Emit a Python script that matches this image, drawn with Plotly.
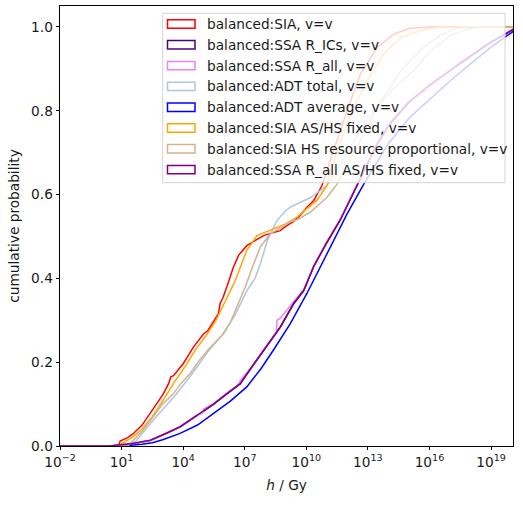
import numpy as np
import plotly.graph_objects as go

# log10(h / Gy) and cumulative probability
sia_logh = [-2, 0.85, 0.93, 1.3, 1.58, 2.0, 2.39, 2.7, 3.04, 3.3, 3.4, 3.53, 3.8, 4.01, 4.3, 4.5, 4.8, 5.0,
            5.2, 5.5, 5.72, 5.8, 5.95, 6.2, 6.45, 6.7, 6.94, 7.1, 7.5, 7.92, 8.3, 8.73, 9.0, 9.38, 9.7, 10.03,
            10.36, 10.76, 11.33, 11.98, 12.63, 13.45, 14.26, 15.07, 16.0, 20.1]
sia_cdf = [0, 0, 0.012, 0.02, 0.03, 0.05, 0.078, 0.1, 0.125, 0.15, 0.165, 0.168, 0.185, 0.197, 0.22, 0.236, 0.255,
           0.268, 0.275, 0.3, 0.316, 0.34, 0.355, 0.39, 0.427, 0.455, 0.47, 0.478, 0.49, 0.502, 0.508, 0.514, 0.524,
           0.536, 0.55, 0.57, 0.586, 0.621, 0.705, 0.8, 0.887, 0.951, 0.983, 0.997, 1.0, 1.0]

ssa_ics_logh = [-2, 0.4, 1.5, 2.4, 3.2, 3.85, 4.6, 5.48, 6.1, 6.78, 7.3, 7.92, 8.3, 8.73, 9.38, 9.87, 10.36,
                11.0, 11.66, 12.5, 13.45, 14.1, 15.0, 16.0, 17.0, 18.0, 19.0, 20.1]
ssa_ics_cdf = [0, 0, 0.005, 0.013, 0.03, 0.045, 0.07, 0.099, 0.123, 0.148, 0.185, 0.228, 0.255, 0.283, 0.339,
               0.37, 0.428, 0.485, 0.54, 0.625, 0.72, 0.77, 0.82, 0.86, 0.896, 0.93, 0.963, 0.994]

ssa_all_logh = [-2, 0.4, 1.5, 2.4, 3.2, 3.85, 4.6, 4.95, 5.0, 5.48, 6.1, 6.7, 6.78, 7.3, 7.92, 8.3, 8.55, 8.57,
                8.73, 9.38, 9.87, 10.36, 11.0, 11.66, 12.5, 13.45, 14.1, 15.0, 15.8, 15.85, 16.5, 17.3, 17.35,
                18.0, 19.0, 20.1]
ssa_all_cdf = [0, 0, 0.005, 0.014, 0.031, 0.046, 0.072, 0.079, 0.088, 0.101, 0.125, 0.147, 0.156, 0.187, 0.23,
               0.257, 0.272, 0.30, 0.305, 0.344, 0.373, 0.43, 0.487, 0.542, 0.627, 0.722, 0.772, 0.823, 0.848,
               0.856, 0.878, 0.905, 0.913, 0.932, 0.965, 0.995]

adt_total_logh = [-2, 1.4, 1.7, 2.6, 3.6, 4.4, 5.2, 5.9, 6.5, 7.1, 7.5, 7.76, 8.1, 8.57, 9.0, 9.22, 10.2, 11.0,
                  11.66, 12.47, 13.3, 14.2, 15.3, 16.0, 17.0, 18.0, 18.6, 20.1]
adt_total_cdf = [0, 0, 0.012, 0.065, 0.12, 0.17, 0.225, 0.265, 0.31, 0.37, 0.40, 0.435, 0.49, 0.538, 0.562, 0.570,
                 0.593, 0.621, 0.67, 0.74, 0.80, 0.85, 0.90, 0.94, 0.98, 0.997, 1.0, 1.0]

adt_avg_logh = [-2, 1.0, 2.0, 2.5, 3.0, 3.85, 4.7, 5.48, 6.3, 7.1, 7.8, 8.4, 9.22, 10.03, 10.5, 11.2, 12.0, 12.8,
                14.0, 15.0, 16.05, 17.0, 18.0, 19.0, 20.1]
adt_avg_cdf = [0, 0, 0.004, 0.008, 0.015, 0.03, 0.05, 0.078, 0.107, 0.141, 0.185, 0.229, 0.292, 0.364, 0.41,
               0.48, 0.555, 0.625, 0.722, 0.782, 0.83, 0.871, 0.912, 0.952, 0.99]

sia_fixed_logh = [-2, 0.9, 1.0, 1.5, 2.0, 2.5, 3.1, 3.6, 4.1, 4.6, 5.1, 5.6, 6.0, 6.54, 7.1, 7.6, 8.4, 9.0, 9.55,
                  9.87, 10.52, 11.0, 11.5, 12.23, 12.96, 13.77, 14.6, 15.7, 16.6, 20.1]
sia_fixed_cdf = [0, 0, 0.006, 0.02, 0.04, 0.07, 0.115, 0.155, 0.19, 0.23, 0.262, 0.3, 0.34, 0.395, 0.467, 0.502,
                 0.518, 0.53, 0.546, 0.56, 0.586, 0.621, 0.705, 0.8, 0.871, 0.935, 0.975, 0.994, 1.0, 1.0]

sia_prop_logh = [-2, 1.3, 1.58, 2.0, 2.55, 3.0, 3.53, 3.9, 4.34, 4.8, 5.2, 5.97, 6.3, 6.6, 7.02, 7.4, 7.76, 8.24,
                 8.8, 9.22, 9.55, 10.2, 11.0, 11.5, 12.47, 13.45, 14.6, 15.7, 16.5, 17.3, 18.0, 20.1]
sia_prop_cdf = [0, 0, 0.014, 0.035, 0.07, 0.1, 0.125, 0.15, 0.173, 0.205, 0.229, 0.268, 0.295, 0.33, 0.379, 0.43,
                0.475, 0.506, 0.522, 0.535, 0.54, 0.558, 0.593, 0.625, 0.713, 0.808, 0.895, 0.951, 0.98, 0.997,
                1.0, 1.0]

ssa_all_fixed_logh = [-2, 0.4, 1.5, 2.4, 3.2, 3.85, 4.6, 5.48, 6.1, 6.78, 7.3, 7.92, 8.3, 8.73, 9.38, 9.87, 10.36,
                      11.0, 11.66, 12.5, 13.45, 14.1, 15.0, 16.0, 17.0, 18.0, 19.0, 20.1]
ssa_all_fixed_cdf = [0, 0, 0.006, 0.014, 0.031, 0.046, 0.071, 0.1, 0.124, 0.149, 0.186, 0.229, 0.256, 0.284,
                     0.34, 0.371, 0.429, 0.486, 0.54, 0.626, 0.721, 0.771, 0.821, 0.861, 0.897, 0.931, 0.964, 0.995]

series = [
    ("balanced:SIA, v=v", sia_logh, sia_cdf, "red"),
    ("balanced:SSA R_ICs, v=v", ssa_ics_logh, ssa_ics_cdf, "indigo"),
    ("balanced:SSA R_all, v=v", ssa_all_logh, ssa_all_cdf, "violet"),
    ("balanced:ADT total, v=v", adt_total_logh, adt_total_cdf, "lightsteelblue"),
    ("balanced:ADT average, v=v", adt_avg_logh, adt_avg_cdf, "blue"),
    ("balanced:SIA AS/HS fixed, v=v", sia_fixed_logh, sia_fixed_cdf, "orange"),
    ("balanced:SIA HS resource proportional, v=v", sia_prop_logh, sia_prop_cdf, "tan"),
    ("balanced:SSA R_all AS/HS fixed, v=v", ssa_all_fixed_logh, ssa_all_fixed_cdf, "purple"),
]

fig = go.Figure()
for name, logh, cdf, color in series:
    fig.add_trace(go.Scatter(x=10 ** np.array(logh, dtype=float), y=cdf, mode="lines", name=name,
                             line=dict(color=color, width=1.5), showlegend=False))

# plot area in pixels: left 60, right 513, top 6, bottom 446
def px_x(p):
    return (p - 60) / 453.0

def px_y(p):
    return (446 - p) / 440.0

# matplotlib-like legend: translucent box, outlined patches, labels
shapes = [dict(type="rect", xref="paper", yref="paper", x0=px_x(162.7), x1=px_x(505), y0=px_y(182.7),
               y1=px_y(13.3), fillcolor="rgba(255,255,255,0.8)", line=dict(color="#d4d4d4", width=1),
               layer="above")]
annotations = []
for i, (name, logh, cdf, color) in enumerate(series):
    yc = 24 + 20.8 * i
    shapes.append(dict(type="rect", xref="paper", yref="paper", x0=px_x(167.5), x1=px_x(195),
                       y0=px_y(yc + 4.2), y1=px_y(yc - 4.2), line=dict(color=color, width=1.5),
                       fillcolor="rgba(0,0,0,0)", layer="above"))
    annotations.append(dict(xref="paper", yref="paper", x=px_x(204.5), y=px_y(yc), text=name,
                            showarrow=False, xanchor="left", yanchor="middle",
                            font=dict(size=13.7, color="#1a1a1a")))

tick_exp = [-2, 1, 4, 7, 10, 13, 16, 19]
fig.update_xaxes(type="log", range=[-2, 20.07],
                 tickvals=[10.0 ** e for e in tick_exp],
                 ticktext=["10<sup>%d</sup>" % e if e >= 0 else "10<sup>\u2212%d</sup>" % -e for e in tick_exp],
                 title=dict(text="<i>h</i> / Gy", standoff=11, font=dict(size=13.7)))
fig.update_yaxes(range=[0, 1.05], tickvals=[0, 0.2, 0.4, 0.6, 0.8, 1.0],
                 ticktext=["0.0", "0.2", "0.4", "0.6", "0.8", "1.0"],
                 title=dict(text="cumulative probability", standoff=8, font=dict(size=13.7)))
fig.update_xaxes(showline=True, mirror=True, linecolor="black", linewidth=0.8, ticks="outside",
                 ticklen=3.5, tickwidth=0.8, tickcolor="black", showgrid=False, zeroline=False,
                 tickfont=dict(size=13.7))
fig.update_yaxes(showline=True, mirror=True, linecolor="black", linewidth=0.8, ticks="outside",
                 ticklen=3.5, tickwidth=0.8, tickcolor="black", showgrid=False, zeroline=False,
                 tickfont=dict(size=13.7))
fig.update_layout(
    width=523, height=508,
    margin=dict(l=60, r=10, t=6, b=62),
    plot_bgcolor="white", paper_bgcolor="white",
    font=dict(family="DejaVu Sans", size=13.7, color="#1a1a1a"),
    showlegend=False,
    shapes=shapes,
    annotations=annotations,
)
fig.write_html("out.html", config={"displayModeBar": False},
               post_script="document.body.style.margin='0';")
